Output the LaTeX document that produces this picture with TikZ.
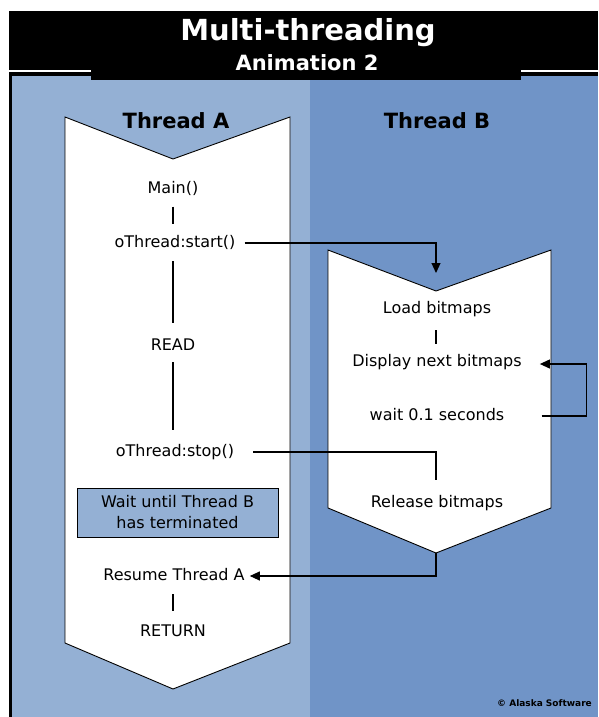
\documentclass[tikz,border=0pt]{standalone}
\usepackage{fontspec}
\setmainfont{DejaVu Sans}
\usetikzlibrary{arrows.meta}
\definecolor{paneA}{HTML}{94B0D4}
\definecolor{paneB}{HTML}{7094C7}
\begin{document}
\begin{tikzpicture}[x=1pt,y=-1pt,
  txt/.style={font=\fontsize{16}{18}\selectfont, inner sep=0pt, text height=12pt, text depth=3pt},
  hdr/.style={font=\bfseries\fontsize{21}{23}\selectfont, inner sep=0pt},
  flow/.style={line width=1.1pt},
  conn/.style={line width=1.1pt, -{Triangle[length=10pt,width=9pt]}},
  chevron/.style={fill=white, draw=black, line width=0.9pt},
]
\useasboundingbox (0,0) rectangle (598,717);

% panels
\fill[paneA] (12,76) rectangle (310,717);
\fill[paneB] (310,76) rectangle (598,717);
\fill[black] (9,11) rectangle (12,717);

% title band
\fill[black] (9,11) rectangle (598,76);
\fill[black] (91,11) rectangle (521,80);
\fill[white] (9,69.5) rectangle (91,72);
\fill[white] (521,69.5) rectangle (598,72);
\node[font=\bfseries\fontsize{29}{31}\selectfont, text=white, inner sep=0pt] (title) at (308,33) {Multi-threading};
\node[font=\bfseries\fontsize{21}{23}\selectfont, text=white, inner sep=0pt] (subtitle) at (307,63) {Animation 2};

% thread A banner
\coordinate (atl) at (65,117);
\coordinate (anotch) at (173,159);
\coordinate (atr) at (290,117);
\coordinate (abr) at (290,643);
\coordinate (abot) at (173,689);
\coordinate (abl) at (65,643);
\draw[chevron] (atl) -- (anotch) -- (atr) -- (abr) -- (abot) -- (abl) -- cycle;

% thread B banner
\coordinate (btl) at (328,250);
\coordinate (bnotch) at (436,291);
\coordinate (btr) at (551,250);
\coordinate (bbr) at (551,508);
\coordinate (bbot) at (436,553);
\coordinate (bbl) at (328,508);
\draw[chevron] (btl) -- (bnotch) -- (btr) -- (bbr) -- (bbot) -- (bbl) -- cycle;

% column headings
\node[hdr] (headA) at (176,121) {Thread A};
\node[hdr] (headB) at (437,121) {Thread B};

% thread A steps
\node[txt] (main) at (173,189) {Main()};
\node[txt] (start) at (175,243) {oThread:start()};
\node[txt] (read) at (173,346) {READ};
\node[txt] (stop) at (175,452) {oThread:stop()};
\node[draw=black, line width=0.9pt, fill=paneA, minimum width=201pt, minimum height=49pt,
      inner sep=0pt, align=center, font=\fontsize{16}{21}\selectfont] (waitbox) at (177.5,512.5)
      {Wait until Thread B\\has terminated};
\node[txt] (resume) at (174,576) {Resume Thread A};
\node[txt] (return) at (173,632) {RETURN};

% thread B steps
\node[txt] (load) at (437,309) {Load bitmaps};
\node[txt] (display) at (437,362) {Display next bitmaps};
\node[txt] (wait) at (437,416) {wait 0.1 seconds};
\node[txt] (release) at (437,503) {Release bitmaps};

% sequence ticks, kept on the banner axes
\draw[flow] ([yshift=-10pt]main.south -| anotch) -- ([yshift=11pt]start.north -| anotch);
\draw[flow] ([yshift=-10.5pt]start.south -| anotch) -- ([yshift=15.5pt]read.north -| anotch);
\draw[flow] ([yshift=-8.5pt]read.south -| anotch) -- ([yshift=14.5pt]stop.north -| anotch);
\draw[flow] ([yshift=-10.5pt]resume.south -| anotch) -- ([yshift=13.5pt]return.north -| anotch);
\draw[flow] ([yshift=-13.5pt]load.south -| bnotch) -- ([yshift=10.5pt]display.north -| bnotch);

% cross-thread connectors
\draw[conn] ([xshift=9pt]start.east) -| ([yshift=18pt]bnotch);
\draw[flow] ([xshift=19pt]stop.east) -| ([yshift=15.5pt]release.north -| bnotch);
\draw[conn] ([xshift=37pt]wait.east) -- ++(45,0) |- ([xshift=18pt,yshift=-2pt]display.east);
\draw[conn] (bbot) |- ([xshift=5pt]resume.east);

% credit
\node[font=\bfseries\fontsize{9}{10}\selectfont, anchor=east, inner sep=0pt] (credit) at (592,703) {© Alaska Software};
\end{tikzpicture}
\end{document}
